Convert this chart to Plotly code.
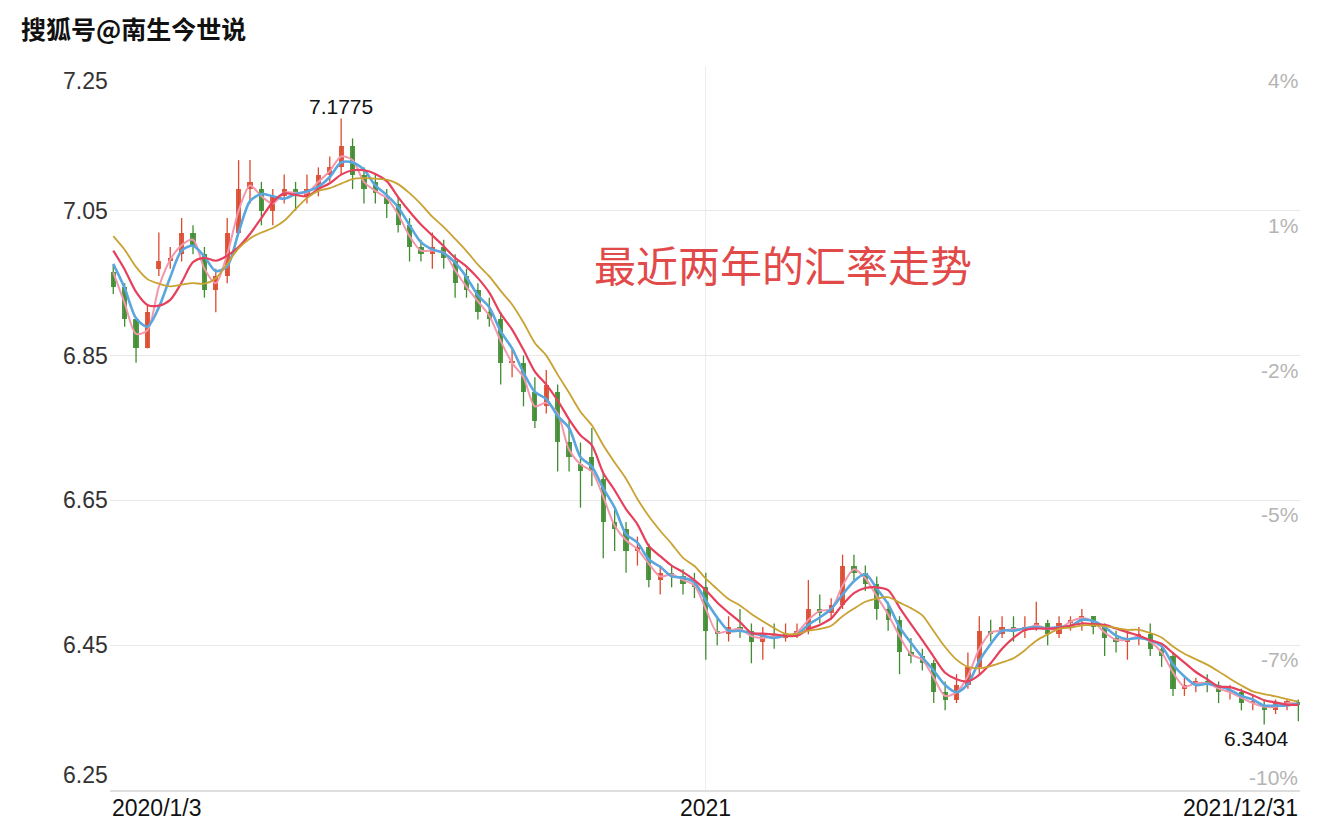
import plotly.graph_objects as go
import pandas as pd

# ---------------- data (weekly candles) ----------------
week_dates = pd.date_range("2020-01-03", "2021-12-31", freq="7D")

opens = [6.965, 6.945, 6.90, 6.86, 6.97, 6.98, 6.99, 7.02, 6.99, 6.94,
         6.96, 7.02, 7.08, 7.08, 7.05, 7.07, 7.08, 7.07, 7.08, 7.10,
         7.11, 7.14, 7.10, 7.09, 7.07, 7.06, 7.03, 7.00, 6.99, 7.00,
         6.98, 6.96, 6.94, 6.91, 6.90, 6.84, 6.84, 6.80, 6.78, 6.80,
         6.73, 6.70, 6.71, 6.68, 6.62, 6.61, 6.58, 6.585, 6.54, 6.55,
         6.545, 6.535, 6.53, 6.47, 6.465, 6.475, 6.47, 6.455, 6.465, 6.46,
         6.465, 6.47, 6.50, 6.495, 6.505, 6.56, 6.55, 6.535, 6.50, 6.485,
         6.44, 6.435, 6.425, 6.385, 6.375, 6.395, 6.42, 6.47, 6.465, 6.475,
         6.47, 6.475, 6.48, 6.465, 6.48, 6.485, 6.49, 6.475, 6.46, 6.455,
         6.46, 6.465, 6.445, 6.435, 6.39, 6.395, 6.40, 6.395, 6.385, 6.385,
         6.37, 6.365, 6.36, 6.37, 6.372]
highs = [6.975, 6.95, 6.90, 6.92, 7.02, 7.00, 7.04, 7.03, 7.00, 6.97,
         7.04, 7.12, 7.12, 7.09, 7.08, 7.10, 7.09, 7.10, 7.11, 7.125,
         7.1775, 7.15, 7.11, 7.10, 7.08, 7.07, 7.04, 7.01, 7.02, 7.01,
         6.99, 6.97, 6.95, 6.93, 6.91, 6.86, 6.85, 6.82, 6.83, 6.81,
         6.76, 6.73, 6.75, 6.69, 6.64, 6.62, 6.60, 6.59, 6.56, 6.56,
         6.555, 6.55, 6.55, 6.49, 6.49, 6.50, 6.48, 6.475, 6.48, 6.48,
         6.48, 6.54, 6.52, 6.515, 6.575, 6.575, 6.56, 6.545, 6.51, 6.49,
         6.46, 6.445, 6.43, 6.40, 6.41, 6.44, 6.49, 6.485, 6.49, 6.49,
         6.49, 6.51, 6.485, 6.49, 6.49, 6.50, 6.49, 6.48, 6.47, 6.47,
         6.475, 6.48, 6.45, 6.44, 6.405, 6.405, 6.41, 6.40, 6.395, 6.39,
         6.38, 6.375, 6.375, 6.375, 6.375]
lows = [6.935, 6.89, 6.84, 6.86, 6.96, 6.97, 6.98, 6.99, 6.93, 6.91,
        6.95, 7.02, 7.06, 7.03, 7.03, 7.06, 7.05, 7.06, 7.07, 7.09,
        7.10, 7.08, 7.06, 7.06, 7.04, 7.02, 6.98, 6.98, 6.97, 6.97,
        6.93, 6.93, 6.90, 6.89, 6.81, 6.82, 6.78, 6.75, 6.77, 6.69,
        6.69, 6.64, 6.67, 6.57, 6.58, 6.55, 6.56, 6.53, 6.52, 6.53,
        6.52, 6.515, 6.43, 6.45, 6.455, 6.46, 6.425, 6.43, 6.445, 6.455,
        6.46, 6.465, 6.48, 6.485, 6.50, 6.54, 6.525, 6.485, 6.47, 6.41,
        6.425, 6.415, 6.37, 6.36, 6.37, 6.39, 6.41, 6.455, 6.46, 6.455,
        6.46, 6.47, 6.45, 6.46, 6.47, 6.47, 6.465, 6.435, 6.44, 6.43,
        6.45, 6.435, 6.42, 6.38, 6.38, 6.385, 6.385, 6.37, 6.375, 6.36,
        6.36, 6.3404, 6.355, 6.36, 6.345]
closes = [6.945, 6.90, 6.86, 6.91, 6.98, 6.985, 7.02, 7.00, 6.94, 6.96,
          7.02, 7.08, 7.09, 7.05, 7.07, 7.08, 7.07, 7.08, 7.10, 7.11,
          7.14, 7.10, 7.08, 7.075, 7.06, 7.03, 7.00, 6.99, 7.00, 6.985,
          6.95, 6.94, 6.91, 6.90, 6.84, 6.84, 6.80, 6.76, 6.81, 6.73,
          6.71, 6.69, 6.69, 6.62, 6.61, 6.58, 6.585, 6.54, 6.55, 6.545,
          6.535, 6.53, 6.47, 6.465, 6.475, 6.47, 6.455, 6.465, 6.46, 6.465,
          6.47, 6.50, 6.495, 6.505, 6.56, 6.55, 6.535, 6.50, 6.485, 6.44,
          6.435, 6.425, 6.385, 6.375, 6.395, 6.42, 6.47, 6.465, 6.475, 6.47,
          6.475, 6.48, 6.465, 6.48, 6.485, 6.49, 6.475, 6.46, 6.455, 6.46,
          6.465, 6.445, 6.435, 6.39, 6.395, 6.40, 6.395, 6.385, 6.385, 6.37,
          6.37, 6.36, 6.37, 6.37, 6.368]
# closes of the weeks before the visible range (implied by where the averages start)
prior_closes = [7.05, 7.05, 7.045, 7.03, 7.015, 7.00, 6.985]

# moving-average windows (in weeks) standing in for MA5 / MA10 / MA20 / MA30
ma_windows = {"MA5": 2, "MA10": 3, "MA20": 5, "MA30": 8}
ma_colors = {"MA5": "#f397ad", "MA10": "#5aa6df", "MA20": "#e6405c", "MA30": "#c9a232"}
ma_widths = {"MA5": 2.0, "MA10": 2.6, "MA20": 2.2, "MA30": 1.8}

max_label = "7.1775"
min_label = "6.3404"
max_index = 20
min_index = 101

left_ticks = [7.25, 7.05, 6.85, 6.65, 6.45, 6.25]
right_labels = ["4%", "1%", "-2%", "-5%", "-7%", "-10%"]
x_labels = [("2020/1/3", 0.0, "left"), ("2021", None, "center"), ("2021/12/31", 1.0, "right")]
year_tick = "2021-01-01"

title_text = "最近两年的汇率走势"
watermark = "搜狐号@南生今世说"

# ---------------- figure ----------------
UP = "#dc4a2d"
DOWN = "#3f8c30"

fig = go.Figure()

# wicks
for is_up, col in ((True, UP), (False, DOWN)):
    xs, ys = [], []
    for d, o, h, l, c in zip(week_dates, opens, highs, lows, closes):
        if (c >= o) == is_up:
            xs += [d, d, None]
            ys += [l, h, None]
    fig.add_trace(go.Scatter(x=xs, y=ys, mode="lines",
                             line=dict(color=col, width=1.3),
                             hoverinfo="skip", showlegend=False))

# bodies
bases = [min(o, c) for o, c in zip(opens, closes)]
heights = [max(abs(c - o), 0.003) for o, c in zip(opens, closes)]
cols = [UP if c >= o else DOWN for o, c in zip(opens, closes)]
fig.add_trace(go.Bar(x=week_dates, y=heights, base=bases,
                     width=3.2 * 24 * 3600 * 1000,
                     marker=dict(color=cols, line=dict(width=0)),
                     opacity=0.9, hoverinfo="skip", showlegend=False))

# moving averages
all_closes = prior_closes + closes
n0 = len(prior_closes)
for name, w in ma_windows.items():
    vals = []
    for i in range(len(closes)):
        j = i + n0
        window = all_closes[j - w + 1:j + 1]
        vals.append(sum(window) / len(window))
    fig.add_trace(go.Scatter(x=week_dates, y=vals, mode="lines", name=name,
                             line=dict(color=ma_colors[name], width=ma_widths[name],
                                       shape="spline", smoothing=0.8),
                             hoverinfo="skip", showlegend=False))

annotations = []
num_font = "Liberation Sans, Arial"
# axis labels
for k, t in enumerate(left_ticks):
    if t == max(left_ticks):
        ya = "top"
    elif t == min(left_ticks):
        ya = "bottom"
    else:
        ya = "middle"
    annotations.append(dict(xref="paper", x=0, xanchor="right", yref="y", y=t,
                            yanchor=ya, text=f"{t:.2f}", showarrow=False,
                            font=dict(family=num_font, size=23, color="#333333")))
    annotations.append(dict(xref="paper", x=1, xanchor="right", yref="y", y=t,
                            yanchor="bottom" if t == min(left_ticks) else "top",
                            yshift=-1, text=right_labels[k], showarrow=False,
                            font=dict(family=num_font, size=21, color="#b4b4b4")))

# x labels
for txt, px, anchor in x_labels:
    if px is None:
        annotations.append(dict(xref="x", x=year_tick, xanchor="center", yref="paper", y=0,
                                yanchor="top", yshift=-3, text=txt, showarrow=False,
                                font=dict(family=num_font, size=23, color="#111111")))
    else:
        annotations.append(dict(xref="paper", x=px, xanchor=anchor, yref="paper", y=0,
                                yanchor="top", yshift=-3, text=txt, showarrow=False,
                                font=dict(family=num_font, size=23, color="#111111")))

# max / min marks
annotations.append(dict(x=week_dates[max_index], y=highs[max_index], xref="x", yref="y",
                        text=max_label, showarrow=False, yanchor="bottom", yshift=-2,
                        font=dict(family=num_font, size=21, color="#111111")))
annotations.append(dict(x=week_dates[min_index], y=lows[min_index], xref="x", yref="y",
                        text=min_label, showarrow=False, yanchor="top", yshift=0, xshift=-8,
                        font=dict(family=num_font, size=21, color="#111111")))

# title in chart and watermark
annotations.append(dict(xref="paper", yref="paper", x=0.5655, y=0.727, xanchor="center",
                        yanchor="middle", text=title_text, showarrow=False,
                        font=dict(family="Noto Sans CJK SC", size=42, color="#e24a4a")))
annotations.append(dict(xref="paper", yref="paper", x=-0.0762, y=1.052, xanchor="left",
                        yanchor="middle", text=watermark, showarrow=False,
                        font=dict(family="Noto Sans CJK SC", size=25, color="#111111",
                                  weight="bold")))

fig.update_layout(
    width=1336, height=826,
    margin=dict(l=102, r=44, t=58, b=44),
    paper_bgcolor="white", plot_bgcolor="white",
    showlegend=False, bargap=0,
    annotations=annotations,
    xaxis=dict(type="date", range=["2020-01-01", "2022-01-01"],
               tickvals=[year_tick], showticklabels=False, ticks="",
               showgrid=True, gridcolor="#ececec", gridwidth=1,
               showline=True, linecolor="#dedede", linewidth=1.5,
               zeroline=False, fixedrange=True),
    yaxis=dict(range=[min(left_ticks), max(left_ticks)], tickvals=left_ticks,
               showticklabels=False, ticks="", showgrid=True,
               gridcolor="#e8e8e8", gridwidth=1, zeroline=False,
               showline=False, fixedrange=True),
)

fig.write_html("out.html")
